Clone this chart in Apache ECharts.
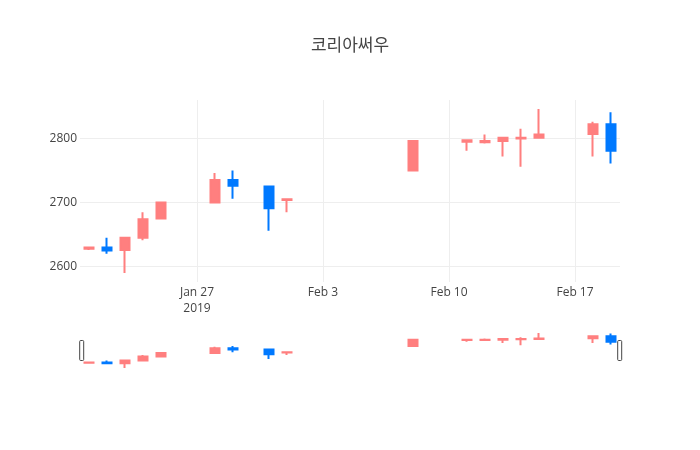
<!DOCTYPE html>
<html><head><meta charset="utf-8">
<script src="https://cdn.jsdelivr.net/npm/echarts@6/dist/echarts.min.js"></script>
<style>html,body{margin:0;padding:0;background:#fff}#c{width:700px;height:450px}</style>
</head><body><div id="c"></div>
<script>
var titleText = '코리아써우';
var dates = ['2019-01-21','2019-01-22','2019-01-23','2019-01-24','2019-01-25','2019-01-28','2019-01-29','2019-01-31','2019-02-01','2019-02-08','2019-02-11','2019-02-12','2019-02-13','2019-02-14','2019-02-15','2019-02-18','2019-02-19'];
var openVals  = [2628,2630,2626,2645,2675,2700,2735,2725,2704,2750,2795,2794,2796,2800,2801,2807,2822];
var closeVals = [2630,2625,2645,2674,2700,2735,2726,2691,2705,2796,2797,2796,2801,2801,2806,2822,2781];
var lowVals   = [2626,2620,2590,2641,2675,2700,2706,2656,2685,2750,2781,2792,2772,2756,2801,2772,2761];
var highVals  = [2630,2645,2645,2685,2700,2746,2750,2725,2705,2796,2797,2806,2801,2815,2846,2826,2841];
var xTicks = ['2019-01-27','2019-02-03','2019-02-10','2019-02-17'];
var yTicks = [2600,2700,2800];
var xRange = ['2019-01-20 12:00:00','2019-02-19 12:00:00'];
var yRange = [2576, 2860];

var months = ['Jan','Feb','Mar','Apr','May','Jun','Jul','Aug','Sep','Oct','Nov','Dec'];
var P = echarts.number.parseDate;
var rows = dates.map(function(d,i){ return [+P(d), openVals[i], closeVals[i], lowVals[i], highVals[i]]; });
var xTickVals = xTicks.map(function(d){ return +P(d); });
var font = '"Open Sans", "Noto Sans CJK KR", sans-serif';
var up = '#ff7f7f', down = '#0079ff';

function candle(xi, yi){
  return {
    type:'candlestick', xAxisIndex:xi, yAxisIndex:yi,
    data: rows, encode:{x:0, y:[1,2,3,4]},
    barWidth: 9,
    itemStyle:{color:up, color0:down, borderColor:up, borderColor0:down, borderWidth:2},
    emphasis:{disabled:true}, silent:true, animation:false
  };
}

var chart = echarts.init(document.getElementById('c'), null, {renderer:'canvas'});
chart.setOption({
  animation:false,
  backgroundColor:'#fff',
  textStyle:{fontFamily:font},
  title:{text:titleText, left:'center', top:33, textStyle:{fontFamily:font, fontSize:17, fontWeight:'normal', color:'#444'}},
  grid:[
    {left:80, top:100, width:540, height:182},
    {left:80, top:331, width:540, height:39}
  ],
  xAxis:[
    {type:'value', gridIndex:0, min:+P(xRange[0]), max:+P(xRange[1]), scale:true,
     axisLine:{show:false}, axisTick:{show:false, customValues:xTickVals},
     splitLine:{show:true, lineStyle:{color:'#eee', width:1}},
     axisLabel:{customValues:xTickVals, color:'#444', fontSize:12, fontFamily:font, margin:3, lineHeight:16,
       formatter:function(v){ var d=new Date(v); var s=months[d.getMonth()]+' '+d.getDate(); return (d.getMonth()===0 && d.getDate()===27) ? s+'\n'+d.getFullYear() : s; }}},
    {type:'value', gridIndex:1, min:+P(xRange[0]), max:+P(xRange[1]), scale:true, show:false, splitLine:{show:false}}
  ],
  yAxis:[
    {type:'value', gridIndex:0, min:yRange[0], max:yRange[1], scale:true,
     axisLine:{show:false}, axisTick:{show:false, customValues:yTicks},
     splitLine:{show:true, lineStyle:{color:'#eee', width:1}},
     axisLabel:{customValues:yTicks, color:'#444', fontSize:12, fontFamily:font, margin:3,
       formatter:function(v){ return String(v); }}},
    {type:'value', gridIndex:1, min:yRange[0], max:yRange[1], scale:true, show:false, splitLine:{show:false}}
  ],
  dataZoom:[{
    type:'slider', xAxisIndex:1, filterMode:'none', start:0, end:100,
    left:80, width:540, top:331, height:39,
    backgroundColor:'rgba(0,0,0,0)', borderColor:'rgba(0,0,0,0)', fillerColor:'rgba(0,0,0,0)',
    showDataShadow:false, showDetail:false, brushSelect:false, moveHandleSize:0,
    dataBackground:{lineStyle:{opacity:0}, areaStyle:{opacity:0}},
    handleIcon:'path://M1,0 h2 a1,1 0 0 1 1,1 v18 a1,1 0 0 1 -1,1 h-2 a1,1 0 0 1 -1,-1 v-18 a1,1 0 0 1 1,-1 z',
    handleSize:20,
    handleStyle:{color:'#fff', borderColor:'#444', borderWidth:1},
    emphasis:{handleStyle:{color:'#fff', borderColor:'#444'}}
  }],
  series:[candle(0,0), candle(1,1)]
});
</script></body></html>
